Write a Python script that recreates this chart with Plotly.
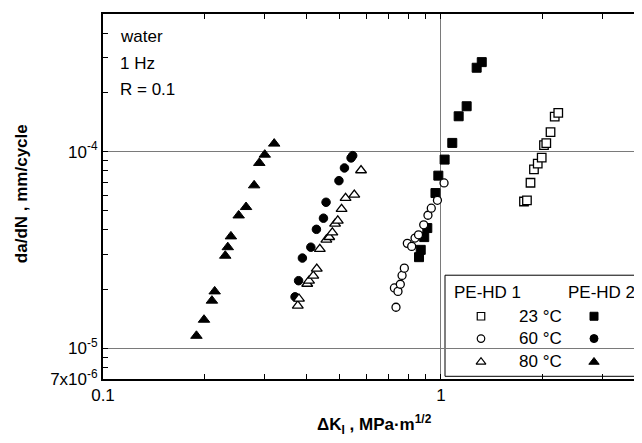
import math
import plotly.graph_objects as go

# ---------------- data ----------------
# PE-HD 1 (open symbols)
x_p1_23 = [1.760, 1.796, 1.840, 1.884, 1.933, 1.986, 2.017, 2.049, 2.109, 2.170, 2.223]
y_p1_23 = [5.58e-5, 5.65e-5, 6.95e-5, 8.13e-5, 8.69e-5, 9.32e-5, 10.79e-5, 11.05e-5, 12.57e-5, 15.07e-5, 15.74e-5]

x_p1_60 = [0.728, 0.736, 0.746, 0.758, 0.767, 0.779, 0.795, 0.819, 0.838, 0.858, 0.889, 0.915, 0.936, 0.976, 1.021]
y_p1_60 = [2.03e-5, 1.62e-5, 1.95e-5, 2.12e-5, 2.35e-5, 2.56e-5, 3.42e-5, 3.30e-5, 3.64e-5, 3.78e-5, 4.25e-5, 4.75e-5, 5.16e-5, 5.66e-5, 6.93e-5]

x_p1_80 = [0.377, 0.380, 0.402, 0.407, 0.419, 0.429, 0.438, 0.458, 0.467, 0.477, 0.486, 0.495, 0.508, 0.522, 0.554, 0.580]
y_p1_80 = [1.65e-5, 1.79e-5, 2.13e-5, 2.21e-5, 2.34e-5, 2.54e-5, 3.20e-5, 3.57e-5, 3.68e-5, 3.88e-5, 4.30e-5, 4.46e-5, 5.11e-5, 5.81e-5, 6.04e-5, 8.03e-5]

# PE-HD 2 (filled symbols)
x_p2_23 = [0.861, 0.871, 0.892, 0.911, 0.963, 0.982, 1.025, 1.080, 1.128, 1.191, 1.275, 1.320]
y_p2_23 = [2.91e-5, 3.17e-5, 3.68e-5, 4.09e-5, 6.16e-5, 7.55e-5, 9.11e-5, 11.07e-5, 15.12e-5, 17.0e-5, 26.67e-5, 28.48e-5]

x_p2_60 = [0.370, 0.379, 0.389, 0.412, 0.428, 0.449, 0.457, 0.499, 0.518, 0.542, 0.548]
y_p2_60 = [1.83e-5, 2.21e-5, 2.88e-5, 3.27e-5, 4.03e-5, 4.59e-5, 5.53e-5, 7.12e-5, 8.26e-5, 9.29e-5, 9.54e-5]

x_p2_80 = [0.189, 0.199, 0.210, 0.214, 0.230, 0.234, 0.239, 0.252, 0.265, 0.280, 0.290, 0.301, 0.321]
y_p2_80 = [1.16e-5, 1.40e-5, 1.75e-5, 1.95e-5, 2.96e-5, 3.27e-5, 3.71e-5, 4.74e-5, 5.23e-5, 6.74e-5, 8.76e-5, 9.65e-5, 10.98e-5]

temperatures = ["23 °C", "60 °C", "80 °C"]
materials = ["PE-HD 1", "PE-HD 2"]
conditions = ["water", "1 Hz", "R = 0.1"]

x_tickvals = [0.1, 1]
x_ticktext = ["0.1", "1"]
x_minor = [0.2, 0.3, 0.4, 0.5, 0.6, 0.7, 0.8, 0.9, 2, 3]
y_tickvals = [7e-6, 1e-5, 1e-4, 5e-4]
y_ticktext = ["7x10<sup>-6</sup>", "10<sup>-5</sup>", "10<sup>-4</sup>", "5x10<sup>-4</sup>"]
y_minor = [8e-6, 9e-6, 2e-5, 3e-5, 4e-5, 5e-5, 6e-5, 7e-5, 8e-5, 9e-5, 2e-4, 3e-4, 4e-4]

x_title = "<b>ΔK<sub>I</sub> , MPa·m<sup>1/2</sup></b>"
y_title = "<b>da/dN , mm/cycle</b>"

# ---------------- geometry ----------------
FONT = "Arial, Liberation Sans, sans-serif"
WIN_W, WIN_H = 642, 443
OFF = 8                      # page body margin of the browser
W, H = WIN_W - OFF, WIN_H - OFF
# plot area in window pixels
PX_L, PX_R, PX_T, PX_B = 103, 642, 14, 378.7
ML, MR, MT, MB = PX_L - OFF, 0, PX_T - OFF, WIN_H - PX_B
PW, PH = PX_R - PX_L, PX_B - PX_T


def px(x):
    return (x - PX_L) / PW


def py(y):
    return (PX_B - y) / PH


X_RANGE = [-1, 0.5947]
Y_RANGE = [math.log10(7e-6), math.log10(5e-4)]

fig = go.Figure()

filled = [(x_p2_23, y_p2_23, "square"), (x_p2_60, y_p2_60, "circle"), (x_p2_80, y_p2_80, "triangle-up")]
opened = [(x_p1_23, y_p1_23, "square"), (x_p1_60, y_p1_60, "circle"), (x_p1_80, y_p1_80, "triangle-up")]
sizes = {"square": 9, "circle": 8.5, "triangle-up": 10}

for (xs, ys, sym), t in zip(filled, temperatures):
    fig.add_trace(go.Scatter(x=xs, y=ys, mode="markers", name=f"PE-HD 2 {t}",
                             marker=dict(symbol=sym, size=sizes[sym], color="black",
                                         line=dict(color="black", width=1))))
for (xs, ys, sym), t in zip(opened, temperatures):
    fig.add_trace(go.Scatter(x=xs, y=ys, mode="markers", name=f"PE-HD 1 {t}",
                             marker=dict(symbol=sym, size=sizes[sym] - 0.5, color="white",
                                         line=dict(color="black", width=1.3))))

# ---------------- custom legend box (helper axes x3/y3 spanning the plot area 0..1) ----------------
BOX = dict(x0=px(445), x1=px(660), y0=py(376), y1=py(275))
HEAD_Y = py(292.7)
ROW_Y = [py(316), py(338.3), py(361.7)]
COL_OPEN, COL_LABEL, COL_FILLED = px(481), px(540), px(594)
HEAD_X = [px(487), px(601)]

fig.add_shape(type="rect", xref="paper", yref="paper", x0=BOX["x0"], x1=BOX["x1"],
              y0=BOX["y0"], y1=BOX["y1"], line=dict(color="black", width=1),
              fillcolor="white", layer="between")

leg_syms = ["square", "circle", "triangle-up"]
leg_sizes = {"square": 7.5, "circle": 7.5, "triangle-up": 8.5}
for sym, ry in zip(leg_syms, ROW_Y):
    fig.add_trace(go.Scatter(x=[COL_OPEN], y=[ry], xaxis="x3", yaxis="y3", mode="markers",
                             showlegend=False, hoverinfo="skip", cliponaxis=False,
                             marker=dict(symbol=sym, size=leg_sizes[sym], color="white",
                                         line=dict(color="black", width=1.2))))
    fig.add_trace(go.Scatter(x=[COL_FILLED], y=[ry], xaxis="x3", yaxis="y3", mode="markers",
                             showlegend=False, hoverinfo="skip", cliponaxis=False,
                             marker=dict(symbol=sym, size=leg_sizes[sym] + 0.5, color="black",
                                         line=dict(color="black", width=1))))

for t, ry in zip(temperatures, ROW_Y):
    fig.add_annotation(x=COL_LABEL, y=ry, xref="paper", yref="paper", text=t, showarrow=False,
                       xanchor="center", yanchor="middle", font=dict(family=FONT, size=17, color="black"))
for m, hx in zip(materials, HEAD_X):
    fig.add_annotation(x=hx, y=HEAD_Y, xref="paper", yref="paper", text=m, showarrow=False,
                       xanchor="center", yanchor="middle", font=dict(family=FONT, size=17, color="black"))

# test conditions text
for txt, ty in zip(conditions, [36, 63, 89]):
    fig.add_annotation(x=px(118), y=py(ty), xref="paper", yref="paper", text=txt, showarrow=False,
                       xanchor="left", yanchor="middle", font=dict(family=FONT, size=17, color="black"))

# partially visible "4" tick label at the cropped right edge
fig.add_annotation(x=px(644.5), y=py(397), xref="paper", yref="paper", text="4", showarrow=False,
                   xanchor="center", yanchor="middle", font=dict(family=FONT, size=17, color="black"))

# axis titles
fig.add_annotation(x=px(374), y=py(424), xref="paper", yref="paper", text=x_title, showarrow=False,
                   xanchor="center", yanchor="middle", font=dict(family=FONT, size=17, color="black"))
fig.add_annotation(x=px(21), y=py(194), xref="paper", yref="paper", text=y_title, showarrow=False,
                   textangle=-90, xanchor="center", yanchor="middle",
                   font=dict(family=FONT, size=17, color="black"))

axis_common = dict(ticks="inside", tickcolor="black", tickwidth=1, zeroline=False)

fig.update_layout(
    width=W, height=H,
    margin=dict(l=ML, r=MR, t=MT, b=MB, pad=0),
    paper_bgcolor="white", plot_bgcolor="white",
    showlegend=False,
    font=dict(family=FONT, size=17, color="black"),
    xaxis=dict(type="log", range=X_RANGE, tickvals=x_tickvals, ticktext=x_ticktext,
               ticklen=5, showline=True, linecolor="black", linewidth=2, mirror="ticks",
               showgrid=True, gridcolor="#7a7a7a", gridwidth=1,
               minor=dict(tickvals=x_minor, ticks="inside", ticklen=5, tickcolor="black", showgrid=False),
               tickfont=dict(family=FONT, size=17, color="black"),
               **axis_common),
    yaxis=dict(type="log", range=Y_RANGE, tickvals=y_tickvals, ticktext=y_ticktext,
               ticklen=5, showline=True, linecolor="black", linewidth=2, mirror=False,
               showgrid=True, gridcolor="#7a7a7a", gridwidth=1,
               minor=dict(tickvals=y_minor, ticks="inside", ticklen=5, tickcolor="black", showgrid=False),
               tickfont=dict(family=FONT, size=17, color="black"),
               **axis_common),
    yaxis2=dict(type="log", range=Y_RANGE, overlaying="y", side="right", anchor="x",
                tickvals=y_tickvals, showticklabels=False, ticklen=3, showline=False, showgrid=False,
                minor=dict(tickvals=y_minor, ticks="inside", ticklen=3, tickcolor="black", showgrid=False),
                **axis_common),
    xaxis3=dict(overlaying="x", range=[0, 1], visible=False, fixedrange=True),
    yaxis3=dict(overlaying="y", range=[0, 1], visible=False, fixedrange=True),
)

# invisible trace so the right-hand tick axis is drawn
fig.add_trace(go.Scatter(x=[1], y=[1e-4], yaxis="y2", mode="markers", marker=dict(opacity=0),
                         showlegend=False, hoverinfo="skip"))

fig.write_html("out.html")
